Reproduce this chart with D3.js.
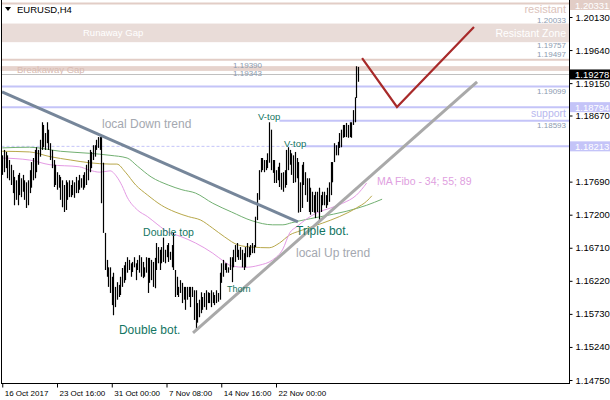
<!DOCTYPE html>
<html><head><meta charset="utf-8">
<script src="https://cdnjs.cloudflare.com/ajax/libs/d3/7.8.5/d3.min.js"></script>
<style>body{margin:0;background:#fff}svg{display:block}text{font-family:"Liberation Sans",Arial,sans-serif}</style>
</head><body><svg id="c" width="610" height="400"></svg>
<script>
// ---------- DATA ----------
const highs = [1.1808,1.1816,1.1813,1.1808,1.1801,1.1794,1.1786,1.1776,1.1771,1.1779,
 1.1782,1.1774,1.1779,1.1771,1.1768,1.1771,1.1786,1.1798,1.1804,1.1816,
 1.1820,1.1816,1.1831,1.1857,1.1853,1.1841,1.1857,1.1846,1.1826,1.1816,
 1.1801,1.1794,1.1783,1.1779,1.1776,1.1771,1.1764,1.1771,1.1768,1.1771,
 1.1764,1.1771,1.1768,1.1776,1.1771,1.1779,1.1774,1.1779,1.1783,1.1794,
 1.1801,1.1816,1.1813,1.1823,1.1823,1.1831,1.1835,1.1835,1.1835,1.1797,
 1.1693,1.1653,1.1642,1.1642,1.1628,1.1634,1.1613,1.1620,1.1616,1.1628,
 1.1641,1.1645,1.1650,1.1657,1.1653,1.1648,1.1650,1.1657,1.1648,1.1653,
 1.1660,1.1657,1.1650,1.1642,1.1657,1.1656,1.1656,1.1653,1.1650,1.1656,
 1.1678,1.1672,1.1668,1.1672,1.1686,1.1668,1.1675,1.1678,1.1665,1.1675,
 1.1693,1.1638,1.1628,1.1613,1.1623,1.1619,1.1613,1.1613,1.1613,1.1613,
 1.1613,1.1613,1.1608,1.1608,1.1589,1.1594,1.1605,1.1598,1.1604,1.1608,
 1.1605,1.1604,1.1608,1.1605,1.1601,1.1608,1.1604,1.1634,1.1648,1.1653,
 1.1648,1.1648,1.1642,1.1657,1.1657,1.1668,1.1675,1.1678,1.1668,1.1672,
 1.1668,1.1663,1.1672,1.1678,1.1672,1.1675,1.1678,1.1675,1.1717,1.1752,
 1.1786,1.1804,1.1804,1.1801,1.1801,1.1811,1.1857,1.1846,1.1801,1.1801,
 1.1786,1.1791,1.1797,1.1782,1.1783,1.1786,1.1816,1.1820,1.1816,1.1811,
 1.1808,1.1813,1.1804,1.1798,1.1768,1.1794,1.1798,1.1783,1.1774,1.1774,
 1.1760,1.1754,1.1749,1.1754,1.1754,1.1760,1.1749,1.1754,1.1754,1.1749,
 1.1760,1.1768,1.1798,1.1798,1.1826,1.1823,1.1828,1.1841,1.1846,1.1853,
 1.1853,1.1856,1.1853,1.1857,1.1857,1.1875,1.1894,1.1940,1.1939];
const lows = [1.1779,1.1783,1.1789,1.1774,1.1771,1.1764,1.1752,1.1734,1.1742,1.1734,
 1.1749,1.1746,1.1754,1.1742,1.1730,1.1734,1.1752,1.1760,1.1771,1.1774,
 1.1783,1.1794,1.1806,1.1816,1.1820,1.1816,1.1826,1.1816,1.1801,1.1789,
 1.1761,1.1764,1.1757,1.1760,1.1742,1.1731,1.1724,1.1727,1.1742,1.1746,
 1.1746,1.1749,1.1745,1.1752,1.1752,1.1757,1.1760,1.1757,1.1760,1.1764,
 1.1771,1.1783,1.1789,1.1801,1.1806,1.1816,1.1819,1.1816,1.1737,1.1693,
 1.1638,1.1628,1.1613,1.1604,1.1586,1.1571,1.1583,1.1594,1.1598,1.1601,
 1.1613,1.1619,1.1623,1.1634,1.1638,1.1628,1.1635,1.1642,1.1623,1.1638,
 1.1634,1.1628,1.1626,1.1628,1.1634,1.1604,1.1619,1.1623,1.1613,1.1611,
 1.1638,1.1648,1.1638,1.1648,1.1650,1.1648,1.1657,1.1650,1.1653,1.1642,
 1.1638,1.1598,1.1601,1.1598,1.1604,1.1589,1.1594,1.1579,1.1594,1.1598,
 1.1583,1.1598,1.1564,1.1549,1.1560,1.1568,1.1574,1.1579,1.1583,1.1579,
 1.1589,1.1589,1.1583,1.1589,1.1586,1.1589,1.1591,1.1594,1.1619,1.1628,
 1.1638,1.1634,1.1634,1.1638,1.1620,1.1642,1.1650,1.1657,1.1653,1.1653,
 1.1642,1.1638,1.1642,1.1657,1.1657,1.1660,1.1663,1.1663,1.1672,1.1712,
 1.1742,1.1783,1.1786,1.1783,1.1786,1.1789,1.1797,1.1786,1.1782,1.1767,
 1.1767,1.1771,1.1761,1.1757,1.1754,1.1760,1.1764,1.1786,1.1794,1.1779,
 1.1767,1.1768,1.1774,1.1723,1.1724,1.1730,1.1764,1.1749,1.1739,1.1724,
 1.1720,1.1724,1.1723,1.1715,1.1724,1.1709,1.1724,1.1734,1.1734,1.1730,
 1.1734,1.1739,1.1749,1.1768,1.1798,1.1808,1.1808,1.1819,1.1820,1.1834,
 1.1835,1.1835,1.1834,1.1835,1.1834,1.1853,1.1857,1.1893,1.1917];

// Moving averages (shifted forward), [bar index, price]
const ma34 = [[0,1.1804],[16,1.1801],[28,1.1794],[45,1.1791],[51,1.1786],[57,1.1783],[63,1.1785],[67,1.1776],[70,1.1763],[73,1.1746],[79,1.1727],[85,1.1717],[91,1.1705],[97,1.1694],[104,1.1688],[113,1.1678],[123,1.1663],[130,1.1650],[134,1.1644],[142,1.1642],[150,1.1645],[158,1.1653],[164,1.1669],[168,1.1693],[172,1.1702],[184,1.1723],[192,1.1730],[199,1.1737],[207,1.1749],[213,1.1767]];
const ma55 = [[0,1.1814],[16,1.1813],[28,1.1806],[40,1.1801],[51,1.1797],[63,1.1795],[67,1.1795],[72,1.1783],[78,1.1764],[85,1.1749],[93,1.1734],[101,1.1724],[109,1.1717],[116,1.1712],[123,1.1700],[130,1.1687],[138,1.1675],[146,1.1672],[156,1.1671],[162,1.1678],[168,1.1690],[174,1.1696],[182,1.1703],[192,1.1712],[202,1.1723],[207,1.1730],[213,1.1740],[216,1.1748]];
const ma89 = [[0,1.1819],[16,1.1820],[34,1.1814],[51,1.1811],[63,1.1808],[73,1.1804],[79,1.1792],[87,1.1776],[97,1.1764],[105,1.1757],[113,1.1752],[123,1.1737],[134,1.1724],[146,1.1711],[158,1.1705],[164,1.1705],[169,1.1708],[174,1.1711],[186,1.1717],[201,1.1725],[213,1.1734],[222,1.1743]];

// Trend lines & forecast, [bar index, price]
const downTrend = [[-0.15,1.19019],[172.8,1.17092]];
const upTrend = [[111.5,1.15447],[277.5,1.19167]];
const forecast = [[210.3,1.19522],[230.7,1.18796],[275.7,1.19982]];

// Levels
const resistantLevel = 1.20331;
const resistZone = [1.20033,1.19757];
const gapLevel = 1.19497;
const breakawayGap = [1.19390,1.19343];
const bidPrice = 1.19278;
const supportLevels = [1.19099,1.18794];
const vtopLevels = [[162,1.18593],[177,1.18213]]; // [start index, price]
const dashedLevel = 1.18213;

// Axis ticks
const yTicks = [1.1475,1.1524,1.1573,1.1622,1.1671,1.1720,1.1769,1.1818,1.1867,1.1915,1.1964,1.2013];
const xTickIdx = [0,32,64,96,128,160];
const xLabels = ["16 Oct 2017","23 Oct 16:00","31 Oct 00:00","7 Nov 08:00","14 Nov 16:00","22 Nov 00:00"];

// Annotations [text, bar index, price]
const patternNotes = [["V-top",149.5,1.18604],["V-top",164.7,1.1820],["Double top",82.3,1.16884],["Thorn",131.4,1.16055]];
const bigNotes = [["Double bot.",68.2,1.15432],["Triple bot.",171.7,1.1690]];
const trendNotes = [["local Down trend",58.3,1.18485],["local Up trend",171.7,1.16573]];
const maNote = ["MA Fibo - 34; 55; 89",219,1.1764];

// ---------- DRAW ----------
const svg = d3.select("#c");
const XR = 569, YB = 383;
const x = d3.scaleLinear().domain([0,331]).range([2.25,568.6]);
const y = d3.scaleLinear().domain([1.1475,1.2013]).range([380,17]);
const F = '"Liberation Sans",Arial,sans-serif';
const fmt = d3.format(".5f");

const plot = svg.append("g");
const hline = (p, color, w, x0=1.5, dash=null) => {
  const l = plot.append("line").attr("x1",x0).attr("x2",XR).attr("y1",y(p)).attr("y2",y(p))
    .attr("stroke",color).attr("stroke-width",w);
  if (dash) l.attr("stroke-dasharray",dash);
  return l;
};

// zones
plot.append("rect").attr("x",1.5).attr("width",XR-1.5)
  .attr("y",y(resistZone[0])).attr("height",y(resistZone[1])-y(resistZone[0])).attr("fill","#e9dcd8");
plot.append("rect").attr("x",1.5).attr("width",XR-1.5)
  .attr("y",y(breakawayGap[0])).attr("height",y(breakawayGap[1])-y(breakawayGap[0]))
  .attr("fill","#e6d3cd").attr("stroke","#e6d3cd").attr("stroke-width",1.6);
hline(resistantLevel,"#e2cdc6",2);
hline(gapLevel,"#e2cdc6",2);
hline(bidPrice,"#c0c0c0",1);
supportLevels.forEach(p=>hline(p,"#c4c4f8",2));
hline(dashedLevel,"#c4c4f8",1,1.5,"3,2");
vtopLevels.forEach(d=>hline(d[1],"#c4c4f8",2,x(d[0])));

// moving averages
const line = d3.line().x(d=>x(d[0])).y(d=>y(d[1])).curve(d3.curveMonotoneX);
[[ma89,"#72b072"],[ma55,"#b8a84a"],[ma34,"#e49ae4"]].forEach(([d,c])=>{
  plot.append("path").attr("d",line(d)).attr("fill","none").attr("stroke",c).attr("stroke-width",1);
});

// bars
plot.append("g").selectAll("line").data(highs).join("line")
  .attr("x1",(d,i)=>Math.round(x(i))+0.5).attr("x2",(d,i)=>Math.round(x(i))+0.5)
  .attr("y1",d=>y(d)).attr("y2",(d,i)=>y(lows[i]))
  .attr("stroke","#000").attr("stroke-width",1.2);

// trend lines
const sline = d3.line().x(d=>x(d[0])).y(d=>y(d[1]));
plot.append("path").attr("d",sline(downTrend)).attr("stroke","#76869a").attr("stroke-width",3).attr("fill","none");
plot.append("path").attr("d",sline(upTrend)).attr("stroke","#a9a9a9").attr("stroke-width",3).attr("fill","none");
plot.append("path").attr("d",sline(forecast)).attr("stroke","#a82a2a").attr("stroke-width",2.2).attr("fill","none");

// texts
const txt = (s,xx,yy,size,color,anchor="start",baseline="auto")=>svg.append("text").text(s)
  .attr("x",xx).attr("y",yy).attr("font-size",size).attr("fill",color)
  .attr("text-anchor",anchor).attr("dominant-baseline",baseline).style("font-family",F);

txt("resistant",566,y(resistantLevel)+9.5,11,"#dcc3bb","end");
txt("Resistant Zone",566,(y(resistZone[0])+y(resistZone[1]))/2,10.5,"#ffffff","end","central");
txt("Runaway Gap",83,(y(resistZone[0])+y(resistZone[1]))/2,9.5,"#ffffff","start","central");
txt("Breakaway Gap",17,(y(breakawayGap[0])+y(breakawayGap[1]))/2+1,9.5,"#d8bcb3","start","central");
txt("support",566,y(supportLevels[1])+10,10.5,"#b8b8ee","end");
const gray="#8c9bb0";
txt(fmt(resistZone[0]),566,y(resistZone[0])-1,8,gray,"end");
txt(fmt(resistZone[1]),566,y(resistZone[1])+6,8,gray,"end");
txt(fmt(gapLevel),566,y(gapLevel)-3,8,gray,"end");
txt(fmt(supportLevels[0]),566,y(supportLevels[0])+7,8,gray,"end");
txt(fmt(vtopLevels[0][1]),566,y(vtopLevels[0][1])+7.5,8,gray,"end");
txt(fmt(breakawayGap[0]),262,y(breakawayGap[0])+1,8,gray,"end");
txt(fmt(breakawayGap[1]),262,y(breakawayGap[1])+6,8,gray,"end");

const teal="#137562";
patternNotes.forEach(([s,i,p])=>txt(s,x(i),y(p),s==="Double top"?10.5:(s==="Thorn"?9:9.5),teal));
bigNotes.forEach(([s,i,p])=>txt(s,x(i),y(p),12,teal));
trendNotes.forEach(([s,i,p])=>txt(s,x(i),y(p),12,"#a4a8b0"));
txt(maNote[0],x(maNote[1]),y(maNote[2]),10.5,"#e0a0e0");

// title
svg.append("path").attr("d","M5,7L11,7L8,11Z").attr("fill","#000");
txt("EURUSD,H4",17,13,9.5,"#000");

// borders
svg.append("line").attr("x1",1.5).attr("x2",1.5).attr("y1",0).attr("y2",YB).attr("stroke","#000");
svg.append("line").attr("x1",1).attr("x2",XR+0.5).attr("y1",YB+0.5).attr("y2",YB+0.5).attr("stroke","#000");
svg.append("line").attr("x1",XR+0.5).attr("x2",XR+0.5).attr("y1",0).attr("y2",YB+1).attr("stroke","#000");

// y axis (the 1.18180 label sits under the 1.18213 price box, hidden as in the reference)
const ya = svg.append("g").attr("transform",`translate(${XR+0.5},0)`)
  .call(d3.axisRight(y).tickValues(yTicks).tickFormat(d=>Math.abs(d-dashedLevel)<0.0005?"":fmt(d)).tickSize(3).tickPadding(3));
ya.select(".domain").remove();
ya.selectAll("text").attr("font-size",9.5).style("font-family",F).attr("fill","#000");

// x axis
const xa = svg.append("g").attr("transform",`translate(0,${YB+0.5})`)
  .call(d3.axisBottom(x).tickValues(xTickIdx).tickFormat((d,i)=>xLabels[i]).tickSize(4));
xa.select(".domain").remove();
xa.selectAll("text").attr("text-anchor","start").attr("x",2).attr("y",7).attr("font-size",8).style("font-family",F).attr("fill","#000");

// axis price boxes
const box = (p,bg,fg)=>{
  const yc = Math.max(y(p),5);
  svg.append("rect").attr("x",XR+1).attr("y",yc-5).attr("width",610-XR-1).attr("height",10).attr("fill",bg);
  txt(fmt(p),XR+6,yc,9.5,fg,"start","central");
};
box(resistantLevel,"#e2cdc6","#ffffff");
box(bidPrice,"#000000","#ffffff");
box(supportLevels[1],"#c4c4f8","#ffffff");
box(dashedLevel,"#c4c4f8","#ffffff");
</script></body></html>
